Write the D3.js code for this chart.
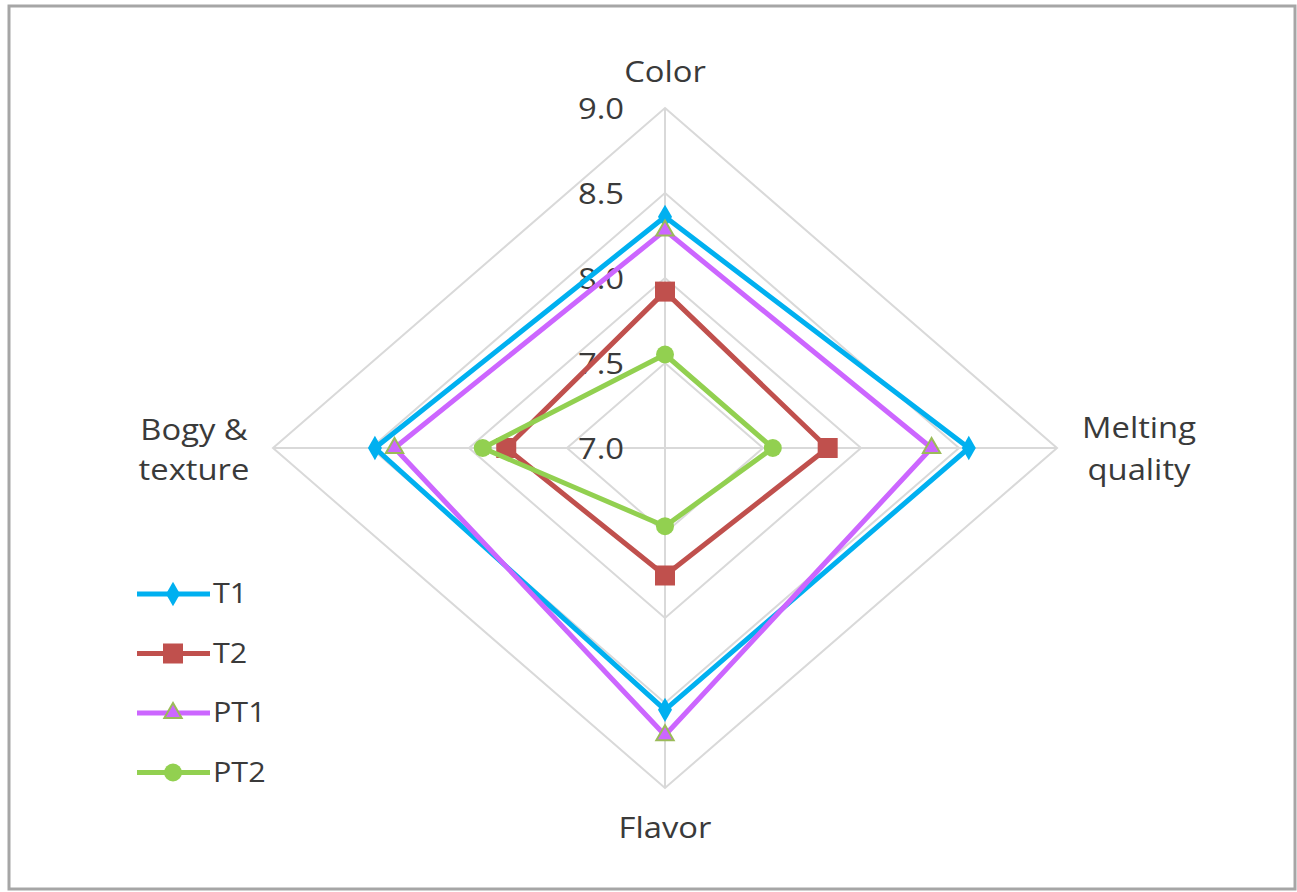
<!DOCTYPE html>
<html>
<head>
<meta charset="utf-8">
<script src="https://cdn.jsdelivr.net/npm/d3@7"></script>
<style>
  body { margin: 0; background: #fff; }
  svg { display: block; }
  text { font-family: "Open Sans", "Noto Sans", sans-serif; fill: #3a3a3a; }
</style>
</head>
<body>
<svg id="chart" width="1297" height="892"></svg>
<script>
// --------------------------
// DATA
// --------------------------
const axes = ["Color", "Melting quality", "Flavor", "Bogy & texture"];
const ticks = [7.0, 7.5, 8.0, 8.5, 9.0];
const seriesNames = ["T1", "T2", "PT1", "PT2"];
const t1 = [8.36, 8.55, 8.54, 8.48];
const t2 = [7.92, 7.83, 7.75, 7.81];
const pt1 = [8.28, 8.36, 8.69, 8.38];
const pt2 = [7.55, 7.55, 7.46, 7.93];

const series = [
    { name: "T1", values: t1, color: "#00b0f0", marker: "diamond" },
    { name: "T2", values: t2, color: "#c0504d", marker: "square" },
    { name: "PT1", values: pt1, color: "#cc66ff", marker: "triangle" },
    { name: "PT2", values: pt2, color: "#92d050", marker: "circle" }
];

// --------------------------
// SETUP
// --------------------------
const svg = d3.select("#chart");
const cx = 665, cy = 448;
const rx = 392, ry = 340;
const stretch = 1.13; // picture is a bit wider than tall

// frame
svg.append("rect")
    .attr("x", 9).attr("y", 6)
    .attr("width", 1286).attr("height", 883)
    .attr("fill", "none")
    .attr("stroke", "#a6a6a6")
    .attr("stroke-width", 3);

const rX = d3.scaleLinear().domain([7, 9]).range([0, rx]);
const rY = d3.scaleLinear().domain([7, 9]).range([0, ry]);
const angle = d3.scaleLinear().domain([0, axes.length]).range([0, 2 * Math.PI]);

function pt(i, v) {
    const a = angle(i);
    return [cx + Math.sin(a) * rX(v), cy - Math.cos(a) * rY(v)];
}

function label(x, y, str, anchor, size) {
    return svg.append("text")
        .attr("transform", `translate(${x},${y}) scale(${stretch},1)`)
        .attr("dy", "0.35em")
        .attr("text-anchor", anchor)
        .attr("font-size", size)
        .text(str);
}

// grid polygons
const grid = svg.append("g");
ticks.slice(1).forEach(t => {
    grid.append("path")
        .attr("d", d3.line()(axes.map((_, i) => pt(i, t))) + "Z")
        .attr("fill", "none")
        .attr("stroke", "#d9d9d9")
        .attr("stroke-width", 2);
});
axes.forEach((_, i) => {
    const [x, y] = pt(i, 9);
    grid.append("line")
        .attr("x1", cx).attr("y1", cy)
        .attr("x2", x).attr("y2", y)
        .attr("stroke", "#d9d9d9")
        .attr("stroke-width", 2);
});

// tick labels
ticks.forEach(t => label(cx - 41, pt(0, t)[1] + 1, t.toFixed(1), "end", 29));

// axis labels
label(cx, 72, "Color", "middle", 29);
label(1139, 428, "Melting", "middle", 29);
label(1139, 470, "quality", "middle", 29);
label(cx, 828, "Flavor", "middle", 29);
label(194, 430, "Bogy &", "middle", 29);
label(194, 470, "texture", "middle", 29);

// markers
function drawMarker(g, type, x, y, color) {
    if (type === "diamond") {
        g.append("path")
            .attr("d", d3.symbol(d3.symbolDiamond, 170)())
            .attr("transform", `translate(${x},${y})`)
            .attr("fill", color);
    } else if (type === "square") {
        g.append("rect")
            .attr("x", x - 10).attr("y", y - 10)
            .attr("width", 20).attr("height", 20)
            .attr("fill", color);
    } else if (type === "triangle") {
        g.append("path")
            .attr("d", d3.symbol(d3.symbolTriangle, 130)())
            .attr("transform", `translate(${x},${y})`)
            .attr("fill", color)
            .attr("stroke", "#9bbb59")
            .attr("stroke-width", 2);
    } else {
        g.append("circle")
            .attr("cx", x).attr("cy", y).attr("r", 9)
            .attr("fill", color);
    }
}

// series
series.forEach(s => {
    const g = svg.append("g");
    const points = s.values.map((v, i) => pt(i, v));
    g.append("path")
        .attr("d", d3.line()(points) + "Z")
        .attr("fill", "none")
        .attr("stroke", s.color)
        .attr("stroke-width", 5)
        .attr("stroke-linejoin", "round");
    points.forEach(p => drawMarker(g, s.marker, p[0], p[1], s.color));
});

// legend
const legend = svg.append("g");
series.forEach((s, i) => {
    const y = 594 + i * 59.5;
    legend.append("line")
        .attr("x1", 137).attr("x2", 210)
        .attr("y1", y).attr("y2", y)
        .attr("stroke", s.color)
        .attr("stroke-width", 5);
    drawMarker(legend, s.marker, 173, y, s.color);
    label(213, y, s.name, "start", 27);
});
</script>
</body>
</html>
